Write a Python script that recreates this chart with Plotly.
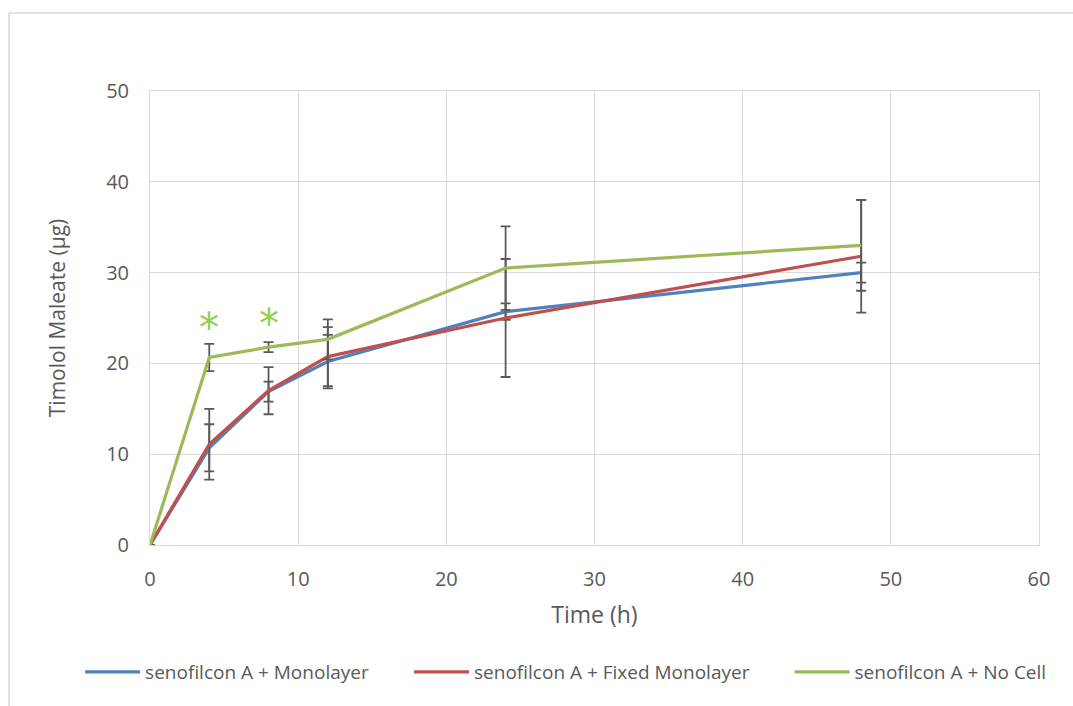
import plotly.graph_objects as go

# Sampling times (h)
time_h = [0, 4, 8, 12, 24, 48]

# Cumulative timolol maleate released (µg) and standard deviations
monolayer = [0, 10.7, 16.9, 20.2, 25.7, 30.0]
monolayer_sd = [0, 2.6, 1.1, 2.95, 0.9, 1.1]

fixed_monolayer = [0, 11.1, 17.0, 20.75, 25.0, 31.8]
fixed_monolayer_sd = [0, 3.9, 2.6, 3.25, 6.5, 6.2]

no_cell = [0, 20.65, 21.8, 22.65, 30.5, 33.0]
no_cell_sd = [0, 1.5, 0.55, 2.2, 4.6, 5.0]

series_names = [
    "senofilcon A + Monolayer",
    "senofilcon A + Fixed Monolayer",
    "senofilcon A + No Cell",
]

# Significance markers
star_x = [4, 8]
star_y = [23.9, 24.3]

x_ticks = [0, 10, 20, 30, 40, 50, 60]
y_ticks = [0, 10, 20, 30, 40, 50]

colors = ["#4F81BD", "#C0504D", "#9BBB59"]
err_color = "#595959"
legend_ids = ["legend", "legend2", "legend3"]
legend_x = [-0.0786, 0.2914, 0.7194]

fig = go.Figure()
for name, vals, sd, col, lg in zip(
    series_names,
    [monolayer, fixed_monolayer, no_cell],
    [monolayer_sd, fixed_monolayer_sd, no_cell_sd],
    colors,
    legend_ids,
):
    fig.add_trace(
        go.Scatter(
            x=time_h,
            y=vals,
            name=name,
            legend=lg,
            mode="lines",
            line=dict(color=col, width=3.2),
            error_y=dict(
                type="data",
                array=sd,
                visible=True,
                color=err_color,
                thickness=1.8,
                width=5,
            ),
        )
    )

for sx, sy in zip(star_x, star_y):
    fig.add_annotation(
        x=sx, y=sy, text="*", showarrow=False,
        font=dict(size=40, color="#92D050", family="DejaVu Sans"),
        xref="x", yref="y", yanchor="middle",
    )

# Outer chart frame
fig.add_shape(
    type="rect", xref="paper", yref="paper",
    x0=-0.1586, x1=1.04, y0=-0.36, y1=1.1718,
    line=dict(color="#D9D9D9", width=1.5), layer="below",
)

legend_style = dict(
    orientation="h",
    xanchor="left",
    y=-0.28, yanchor="middle",
    font=dict(size=19, family="Open Sans, DejaVu Sans", color="#595959"),
    itemwidth=55,
    bgcolor="rgba(0,0,0,0)",
)

fig.update_layout(
    width=1073,
    height=706,
    margin=dict(l=150, r=34, t=91, b=161),
    paper_bgcolor="white",
    plot_bgcolor="white",
    font=dict(family="Open Sans, DejaVu Sans", color="#595959"),
    showlegend=True,
    legend=dict(x=legend_x[0], **legend_style),
    legend2=dict(x=legend_x[1], **legend_style),
    legend3=dict(x=legend_x[2], **legend_style),
    xaxis=dict(
        range=[0, 60],
        tickvals=x_ticks,
        showgrid=True,
        gridcolor="#D9D9D9",
        gridwidth=1,
        zeroline=False,
        showline=True,
        linecolor="#D9D9D9",
        mirror=True,
        ticks="",
        ticklabelstandoff=16,
        tickfont=dict(size=20, color="#595959"),
        title=dict(text="Time (h)", font=dict(size=23, color="#595959"), standoff=15),
    ),
    yaxis=dict(
        range=[0, 50],
        tickvals=y_ticks,
        showgrid=True,
        gridcolor="#D9D9D9",
        gridwidth=1,
        zeroline=False,
        showline=True,
        linecolor="#D9D9D9",
        mirror=True,
        ticks="",
        ticklabelstandoff=16,
        tickfont=dict(size=20, color="#595959"),
        title=dict(text="Timolol Maleate (µg)", font=dict(size=21, color="#595959"), standoff=34),
    ),
)

fig.write_html("out.html")
